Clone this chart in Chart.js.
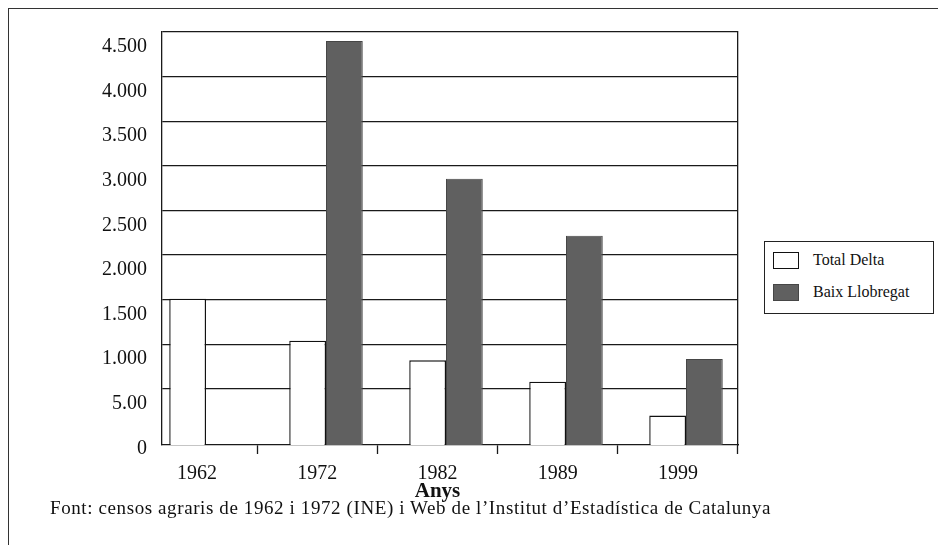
<!DOCTYPE html>
<html>
<head>
<meta charset="utf-8">
<script src="https://cdn.jsdelivr.net/npm/chart.js@4.4.1/dist/chart.umd.min.js"></script>
<style>
    html, body { margin: 0; padding: 0; background: #fff; }
    body {
        width: 938px; height: 545px; position: relative; overflow: hidden;
        font-family: 'Liberation Serif', 'Times New Roman', serif; color: #111;
    }
    .frame {
        position: absolute; left: 8px; top: 8px; width: 1000px; height: 600px;
        border-left: 1.5px solid #333; border-top: 1.5px solid #333;
    }
    .chart-wrap { position: absolute; left: 0; top: 0; width: 938px; height: 545px; }
    #legend {
        position: absolute; left: 764px; top: 241px; width: 170px; height: 73px;
        box-sizing: border-box; border: 1.2px solid #222; background: #fff; padding-top: 2px;
    }
    .legend-item { display: flex; align-items: center; height: 32px; font-size: 16px; }
    .legend-swatch { width: 26px; height: 17px; box-sizing: border-box; margin-left: 8px; margin-right: 14px; }
    .axis-title {
        position: absolute; left: 380px; top: 480px; width: 115px; text-align: center;
        font-size: 21px; line-height: 21px; font-weight: bold;
    }
    .source {
        position: absolute; left: 50px; top: 498px; white-space: nowrap;
        font-size: 19px; line-height: 19px; letter-spacing: 0.6px;
    }
</style>
</head>
<body>
<div class="frame"></div>
<div class="chart-wrap"><canvas id="chart" width="938" height="545"></canvas></div>
<div id="legend"></div>
<div class="axis-title">Anys</div>
<div class="source">Font: censos agraris de 1962 i 1972 (INE) i Web de l’Institut d’Estadística de Catalunya</div>
<script>
const years = ['1962', '1972', '1982', '1989', '1999'];
const totalDelta = [1510, 1040, 820, 580, 200];
const baixLlobregat = [null, 4400, 2855, 2215, 835];
const yTicks = [0, 500, 1000, 1500, 2000, 2500, 3000, 3500, 4000, 4500];
const yTickLabels = ['0', '5.00', '1.000', '1.500', '2.000', '2.500', '3.000', '3.500', '4.000', '4.500'];

const yMin = -130;
const lineColor = '#1a1a1a';

Chart.defaults.font.family = "'Liberation Serif', 'Times New Roman', serif";
Chart.defaults.color = '#111';

const toPoints = (values) => values.map((v, i) => ({ x: i, y: v }));
const yearTicks = (axis) => { axis.ticks = years.map((_, i) => ({ value: i })); };

const chart = new Chart(document.getElementById('chart'), {
    type: 'bar',
    data: {
        datasets: [
            {
                label: 'Total Delta',
                data: toPoints(totalDelta),
                backgroundColor: '#ffffff',
                borderColor: '#111111',
                borderWidth: 1.4,
                base: yMin,
            },
            {
                label: 'Baix Llobregat',
                data: toPoints(baixLlobregat),
                backgroundColor: '#606060',
                borderColor: '#464646',
                borderWidth: 1,
                base: yMin,
            },
        ],
    },
    options: {
        responsive: false,
        animation: false,
        devicePixelRatio: 1,
        layout: { padding: { left: 0, top: 32, right: 200, bottom: 60 } },
        datasets: { bar: { categoryPercentage: 0.6125, barPercentage: 1 } },
        plugins: { legend: { display: false }, tooltip: { enabled: false } },
        scales: {
            // bars sit a little right of the year labels in the original
            x: {
                type: 'linear',
                display: false,
                offset: false,
                min: -0.3667,
                max: 4.4333,
                afterBuildTicks: yearTicks,
                grid: { offset: false },
            },
            x2: {
                type: 'linear',
                position: 'bottom',
                offset: false,
                min: -0.2917,
                max: 4.5,
                afterBuildTicks: yearTicks,
                afterFit: (axis) => { axis.height = 40; },
                grid: {
                    offset: true,
                    drawOnChartArea: false,
                    tickLength: 9,
                    tickColor: lineColor,
                    tickWidth: 1.3,
                },
                border: { color: lineColor, width: 1.3 },
                ticks: {
                    font: { size: 20 },
                    padding: 8,
                    maxRotation: 0,
                    callback: (value) => years[value],
                },
            },
            y: {
                type: 'linear',
                min: yMin,
                max: 4500,
                afterBuildTicks: (axis) => { axis.ticks = yTicks.map((v) => ({ value: v })); },
                afterFit: (axis) => { axis.width = 162; },
                grid: {
                    drawTicks: false,
                    lineWidth: 1.3,
                    color: (ctx) => (ctx.tick && ctx.tick.value === 0 ? 'rgba(0,0,0,0)' : lineColor),
                },
                border: { color: lineColor, width: 1.3 },
                ticks: {
                    font: { size: 20 },
                    padding: 15,
                    labelOffset: 15,
                    callback: (value) => yTickLabels[yTicks.indexOf(value)],
                },
            },
            y2: {
                type: 'linear',
                position: 'right',
                afterFit: (axis) => { axis.width = 0; },
                grid: { display: false, drawTicks: false },
                ticks: { display: false },
                border: { color: lineColor, width: 1.3 },
            },
        },
    },
});

const legendEl = document.getElementById('legend');
chart.data.datasets.forEach((ds) => {
    const item = document.createElement('div');
    item.className = 'legend-item';
    const swatch = document.createElement('span');
    swatch.className = 'legend-swatch';
    swatch.style.background = ds.backgroundColor;
    swatch.style.border = `1.3px solid ${ds.borderColor}`;
    const text = document.createElement('span');
    text.textContent = ds.label;
    item.appendChild(swatch);
    item.appendChild(text);
    legendEl.appendChild(item);
});
</script>
</body>
</html>
